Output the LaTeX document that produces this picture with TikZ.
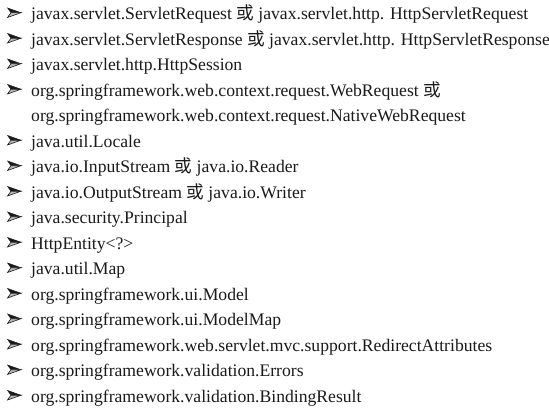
\documentclass[tikz,border=0pt]{standalone}
\usepackage{fontspec}
\setmainfont{Liberation Serif}
\newfontfamily\cjk{Noto Sans CJK SC}
\newcommand{\huo}{{\cjk 或}}
\definecolor{txt}{HTML}{1A1A1A}
\begin{document}
\begin{tikzpicture}[x=1bp,y=1bp,
  item/.style={anchor=base west, inner sep=0pt, text=txt, font=\fontsize{17.7}{20}\selectfont},
  bulup/.style={fill=txt, draw=txt, line width=0.4bp, line join=miter},
  buldn/.style={fill=gray!55, draw=txt, line width=0.6bp, line join=miter}]
\useasboundingbox[fill=white] (0,0) rectangle (549,419);
\def\L#1{419-19.5-25.5*(#1-1)}
\foreach \i in {1,2,3,4,6,7,8,9,10,11,12,13,14,15,16}{
  \coordinate (c\i) at (7.5,{\L{\i}+6.8});
  \fill[bulup] (c\i) ++(13.5,0) -- ++(-13.5,4.8) -- ++(3.4,-4.8) -- cycle;
  \filldraw[buldn] (c\i) ++(13.5,0) -- ++(-13.5,-4.8) -- ++(3.4,4.8) -- cycle;
}
\node[item] (t1) at (31,{\L{1}}) {javax.servlet.ServletRequest \huo{} javax.servlet.http. HttpServletRequest};
\node[item] (t2) at (31,{\L{2}}) {javax.servlet.ServletResponse \huo{} javax.servlet.http. HttpServletResponse};
\node[item] (t3) at (31,{\L{3}}) {javax.servlet.http.HttpSession};
\node[item] (t4) at (31,{\L{4}}) {org.springframework.web.context.request.WebRequest \huo};
\node[item] (t5) at (31,{\L{5}}) {org.springframework.web.context.request.NativeWebRequest};
\node[item] (t6) at (31,{\L{6}}) {java.util.Locale};
\node[item] (t7) at (31,{\L{7}}) {java.io.InputStream \huo{} java.io.Reader};
\node[item] (t8) at (31,{\L{8}}) {java.io.OutputStream \huo{} java.io.Writer};
\node[item] (t9) at (31,{\L{9}}) {java.security.Principal};
\node[item] (t10) at (31,{\L{10}}) {HttpEntity<?>};
\node[item] (t11) at (31,{\L{11}}) {java.util.Map};
\node[item] (t12) at (31,{\L{12}}) {org.springframework.ui.Model};
\node[item] (t13) at (31,{\L{13}}) {org.springframework.ui.ModelMap};
\node[item] (t14) at (31,{\L{14}}) {org.springframework.web.servlet.mvc.support.RedirectAttributes};
\node[item] (t15) at (31,{\L{15}}) {org.springframework.validation.Errors};
\node[item] (t16) at (31,{\L{16}}) {org.springframework.validation.BindingResult};
\end{tikzpicture}
\end{document}
